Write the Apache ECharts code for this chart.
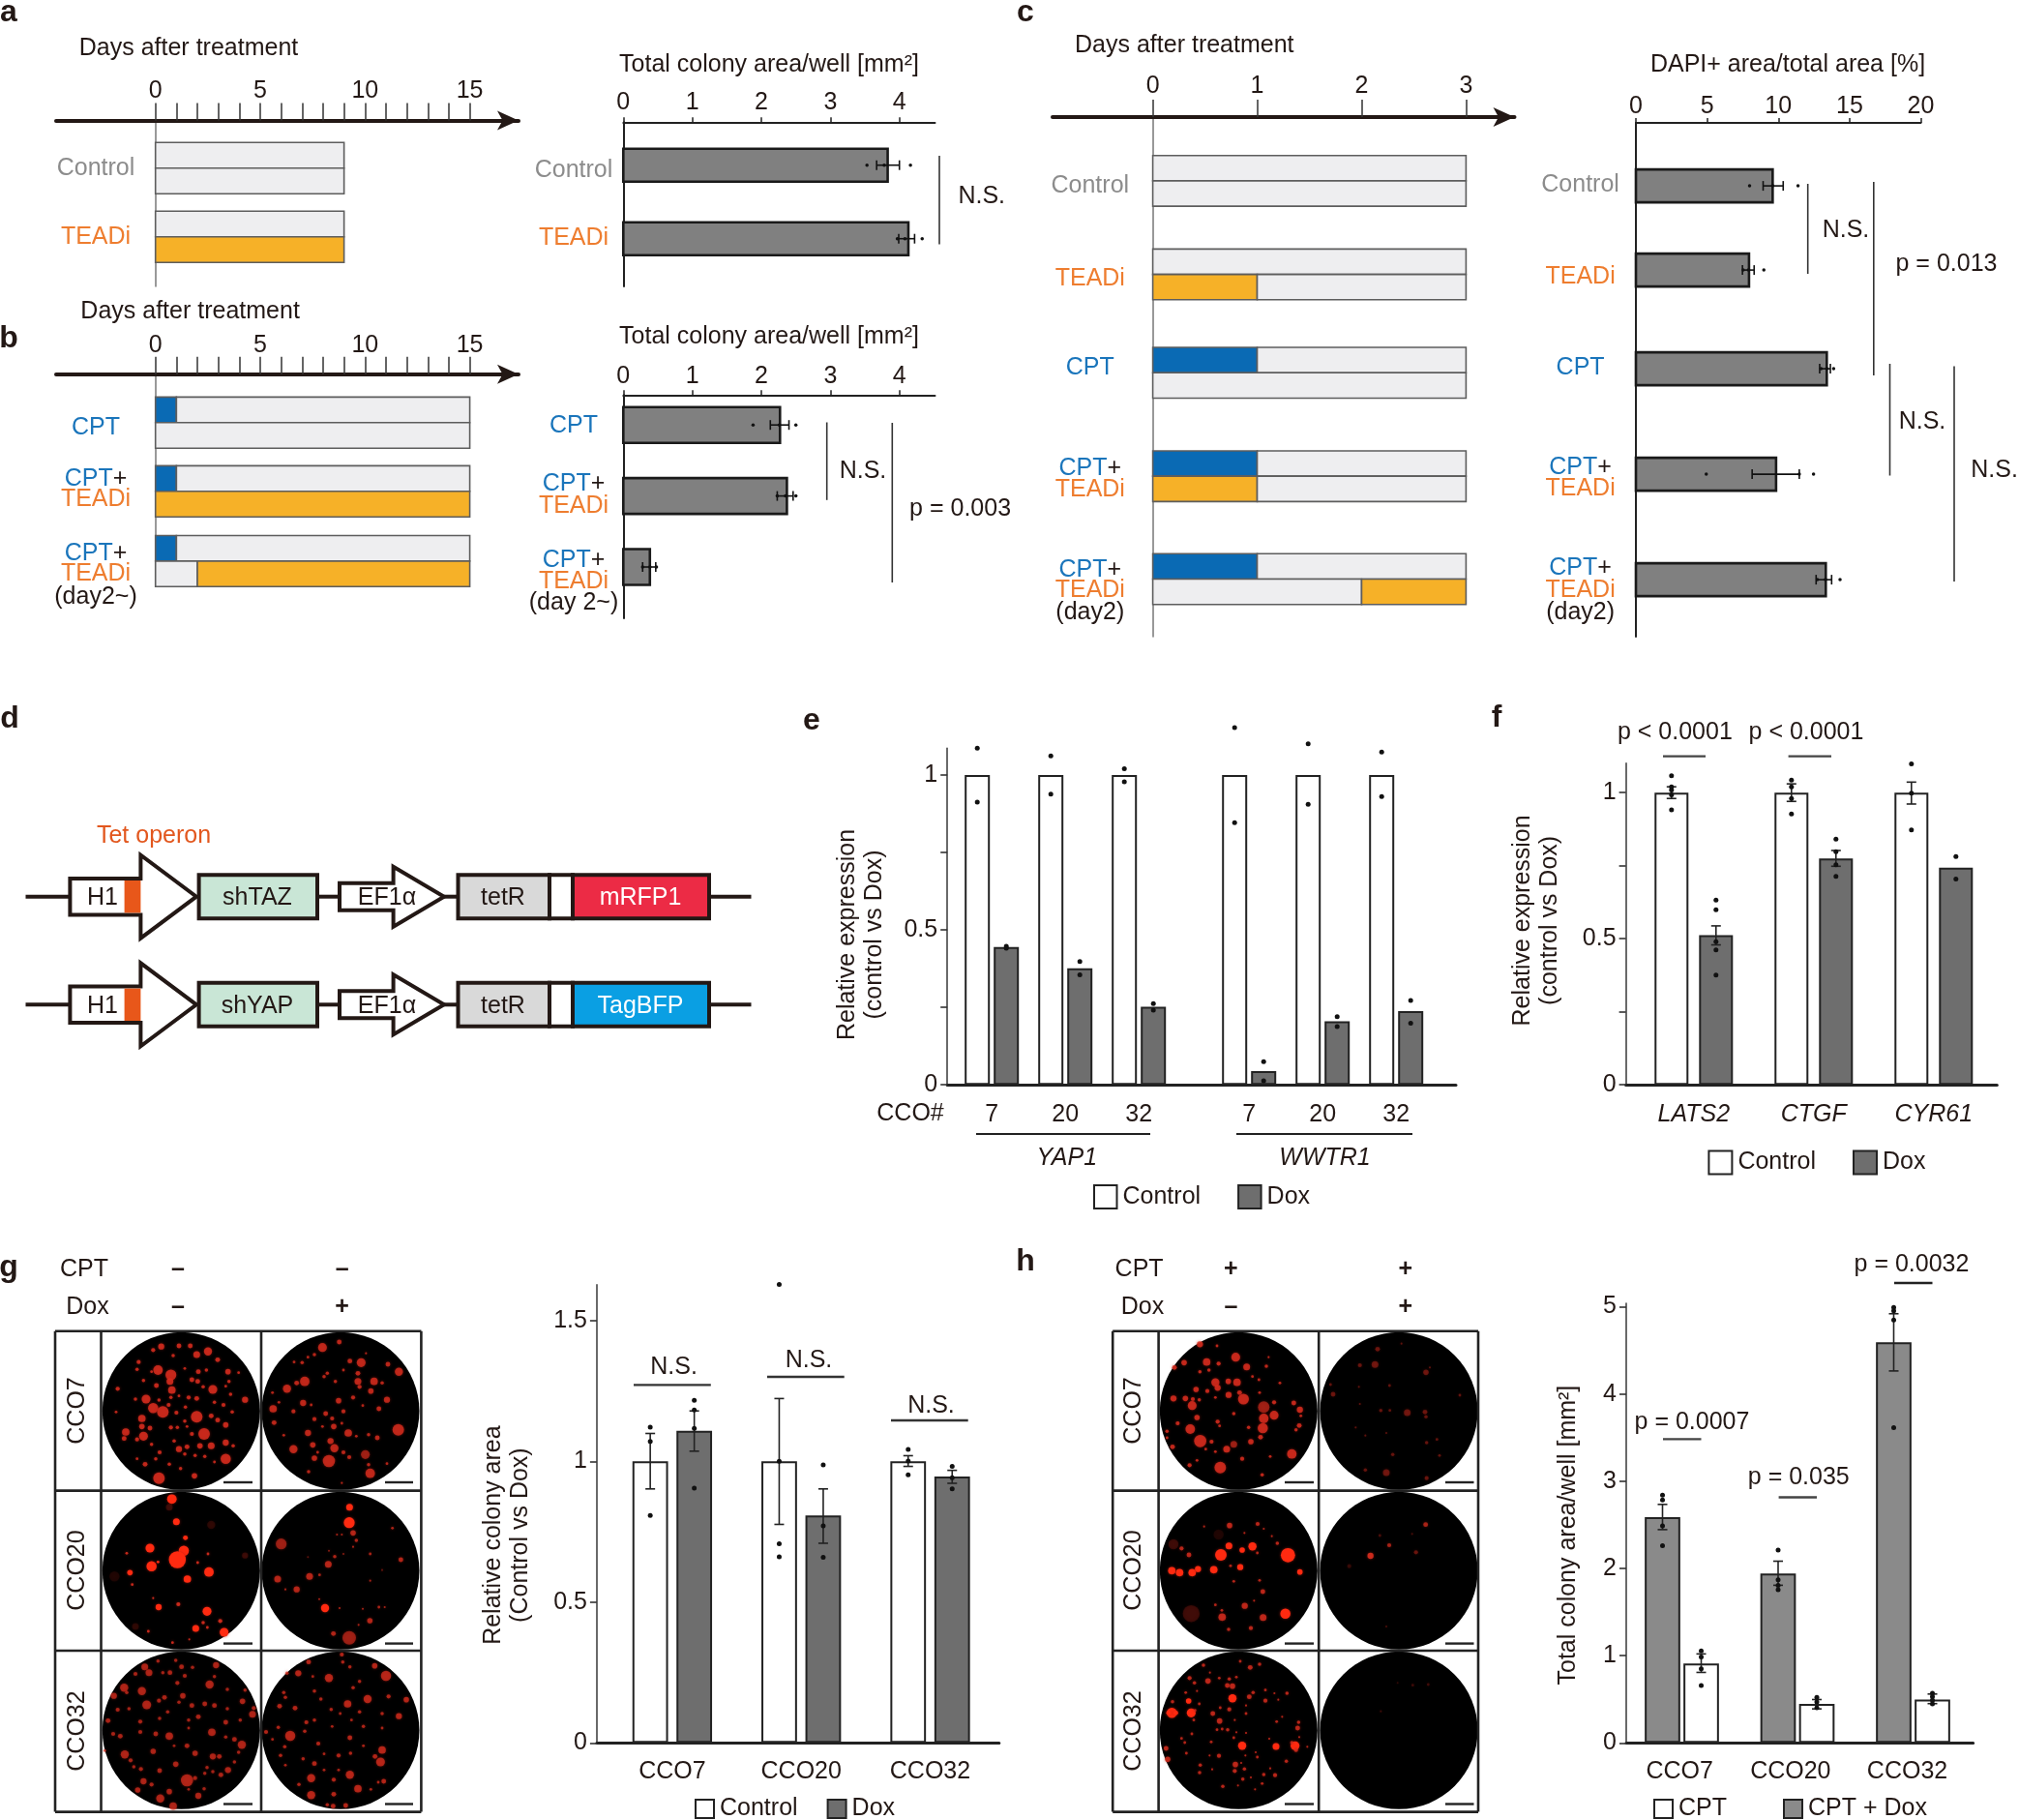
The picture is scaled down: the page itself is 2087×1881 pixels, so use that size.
<!DOCTYPE html>
<html><head><meta charset="utf-8">
<style>html,body{margin:0;padding:0;background:#fff}#c{width:2087px;height:1881px}</style>
<script src="https://cdn.jsdelivr.net/npm/echarts@6/dist/echarts.min.js"></script>
</head><body><div id="c"></div>
<script>
// ---------- DATA ----------
const NONE=0, CPT=1, TEADI=2;
// schedule segments: [lane, startDay, endDay, treatment]
const schedA=[[0,0,9,NONE],[1,0,9,NONE],[2.68,0,9,NONE],[3.68,0,9,TEADI]];
const schedB=[[0,0,1,CPT],[0,1,15,NONE],[1,0,15,NONE],
 [2.69,0,1,CPT],[2.69,1,15,NONE],[3.69,0,15,TEADI],
 [5.42,0,1,CPT],[5.42,1,15,NONE],[6.42,0,2,NONE],[6.42,2,15,TEADI]];
const schedC=[[0,0,3,NONE],[1,0,3,NONE],
 [3.69,0,3,NONE],[4.69,0,1,TEADI],[4.69,1,3,NONE],
 [7.57,0,1,CPT],[7.57,1,3,NONE],[8.57,0,3,NONE],
 [11.65,0,1,CPT],[11.65,1,3,NONE],[12.65,0,1,TEADI],[12.65,1,3,NONE],
 [15.71,0,1,CPT],[15.71,1,3,NONE],[16.71,0,2,NONE],[16.71,2,3,TEADI]];
const dayTicksLong=[0,1,2,3,4,5,6,7,8,9,10,11,12,13,14,15], dayLabelsLong=[0,5,10,15];
const dayTicksShort=[0,1,2,3];

const rowsA=[0,1], valuesA=[3.83,4.13], errA=[[3.67,4.0],[3.99,4.22]], dotsA=[[3.53,3.78,4.16],[3.97,4.08,4.33]];
const rowsB=[0,1,2], valuesB=[2.27,2.37,0.385], errB=[[2.13,2.40],[2.23,2.46],[0.28,0.47]], dotsB=[[1.88,2.26,2.5],[2.23,2.35,2.5],[0.28,0.385,0.48]];
const rowsC=[0,0.87,1.89,2.98,4.07], valuesC=[9.6,7.94,13.4,9.84,13.33];
const errC=[[8.93,10.34],[7.48,8.3],[12.9,13.65],[8.16,11.47],[12.65,13.74]];
const dotsC=[[7.98,9.6,11.38],[7.53,7.9,8.98],[13.0,13.4,13.88],[4.94,11.47,12.47],[12.74,13.3,14.33]];

const groupsE=[0,1,2,3.5,4.5,5.5], labelsE=['7','20','32','7','20','32'];
const controlE=[1,1,1,1,1,1], doxE=[0.445,0.376,0.252,0.044,0.205,0.238];
const dotsControlE=[[1.086,0.912],[1.061,0.938],[1.02,0.978],[1.153,0.846],[1.1,0.905],[1.074,0.93]];
const dotsDoxE=[[0.447,0.441],[0.398,0.355],[0.262,0.241],[0.075,0.013],[0.22,0.188],[0.272,0.199]];

const groupsF=[0,1,2], labelsF=['LATS2','CTGF','CYR61'];
const controlF=[1,1,1], doxF=[0.512,0.775,0.743];
const errControlF=[[0.98,1.02],[0.97,1.03],[0.961,1.036]], errDoxF=[[0.479,0.544],[0.748,0.802],null];
const dotsControlF=[[1.058,1.02,1.009,0.992,0.941],[1.043,1.02,0.98,0.927],[1.098,0.998,0.872]];
const dotsDoxF=[[0.632,0.599,0.49,0.462,0.376],[0.841,0.798,0.753,0.713],[0.781,0.704]];

const groupsG=[0,1,2], labelsG=['CCO7','CCO20','CCO32'];
const controlG=[1,1,1], doxG=[1.108,0.808,0.946];
const errControlG=[[0.902,1.099],[0.776,1.223],[0.982,1.02]], errDoxG=[[1.036,1.179],[0.709,0.902],[0.922,0.968]];
const dotsControlG=[[1.121,1.071,0.808],[1.628,1.0,0.707,0.661],[1.042,1.001,0.952]];
const dotsDoxG=[[1.217,1.182,1.117,0.905],[0.987,0.771,0.659],[0.982,0.942,0.902]];

const groupsH=[0,1,2], labelsH=['CCO7','CCO20','CCO32'], labelPosH=[-0.02,0.94,1.95];
const cptDoxH=[2.589,1.943,4.592], cptH=[0.91,0.446,0.497];
const errCptDoxH=[[2.445,2.734],[1.807,2.083],[4.264,4.92]], errCptH=[[0.808,1.02],[0.39,0.497],[0.45,0.56]];
const dotsCptDoxH=[[2.84,2.785,2.487,2.262],[2.211,1.871,1.807,1.756],[4.991,4.953,4.847,3.614]];
const dotsCptH=[[1.054,0.986,0.85,0.659],[0.523,0.468,0.404],[0.57,0.531,0.489,0.446]];

// colonies: [x, y, diameter, brightness]
const wellG7c=[[185,47,18],[160,58,12],[240,45,14],[275,45,14],[330,62,24],[295,72,20],[222,75,10],[115,95,12],[360,88,14],[110,118,10],[175,120,28],[215,135,32],[212,155,20],[130,152,10],[155,125,8],[258,115,8],[300,125,14],[325,120,10],[392,125,16],[425,128,8],[170,168,14],[218,182,22],[280,150,14],[298,155,14],[315,172,10],[345,180,26],[395,155,10],[385,170,8],[50,178,12],[138,210,26],[105,210,10],[178,213,10],[215,205,10],[270,205,12],[295,208,14],[240,200,8],[400,195,10],[445,212,18],[350,220,10],[378,228,12],[160,238,30],[190,250,34],[208,228,12],[260,235,10],[232,252,12],[405,250,10],[45,250,8],[125,270,22],[258,278,10],[295,265,34],[340,262,14],[360,275,14],[385,290,16],[125,295,16],[150,300,14],[75,312,22],[70,332,14],[130,325,26],[110,335,12],[215,298,12],[235,298,10],[280,318,12],[318,318,34],[265,295,8],[385,345,18],[408,355,10],[155,350,10],[225,340,10],[240,365,18],[265,358,14],[305,355,16],[340,355,20],[180,375,12],[110,395,8],[258,380,10],[290,385,10],[168,395,10],[320,388,10],[385,395,30],[135,412,14],[210,412,10],[245,425,10],[350,405,8],[288,448,16],[178,455,34]];
const wellG7d=[[737,33,14],[685,50,26],[660,72,10],[640,80,8],[805,97,26],[770,92,14],[888,102,14],[622,97,10],[597,95,8],[922,125,24],[700,130,10],[750,120,8],[795,130,14],[820,68,6],[630,155,28],[605,160,14],[575,178,24],[690,140,10],[725,155,10],[795,155,20],[800,172,12],[845,155,22],[835,185,16],[870,160,10],[530,190,8],[550,220,8],[625,222,18],[650,228,8],[735,215,16],[780,205,12],[885,212,18],[532,240,22],[595,248,12],[695,255,14],[750,248,12],[715,270,12],[860,240,14],[810,230,8],[660,272,12],[535,283,14],[720,295,16],[685,295,8],[745,285,8],[920,305,34],[765,315,22],[640,315,18],[828,320,10],[855,330,14],[790,325,8],[565,322,8],[710,340,18],[655,352,16],[722,362,24],[595,365,24],[670,375,8],[750,375,12],[818,382,26,0.6],[768,390,12],[660,393,16],[705,402,36],[833,440,28],[828,413,10],[642,435,10],[885,410,8],[745,470,6]];
const wellG20c=[[218,520,28,1.2],[232,590,20,1.2],[260,640,14,1.2],[150,672,26,1.2],[255,680,30,1.2],[235,708,50,1.2],[155,728,30,1.2],[175,715,8,1.2],[78,688,8],[333,746,28,1.2],[88,748,16,1.2],[266,768,22,1.2],[298,717,8],[95,785,8],[330,690,8],[177,855,18,1.2],[160,827,6],[238,846,12],[327,868,26,1.2],[292,921,20,1.2],[380,933,26,1.2],[315,903,10],[328,918,8],[368,898,12],[145,930,8],[220,965,8],[272,955,6],[210,545,20,0.2],[340,600,24,0.15],[40,760,30,0.1],[445,695,18,0.2],[105,915,20,0.15]];
const wellG20d=[[769,545,20,1.2],[768,593,32,1.2],[780,625,16],[790,648,10],[745,630,6],[730,630,6],[902,610,8],[557,659,32,0.6],[723,698,10],[703,722,20],[928,708,14],[833,690,8],[780,668,6],[645,760,20],[676,755,8],[546,768,20],[605,800,18],[570,800,6],[833,773,6],[693,858,24,1.2],[860,855,8],[878,855,6],[738,858,6],[832,897,16],[797,910,6],[719,937,14],[768,950,40,0.6],[675,830,5],[810,860,5],[750,690,5,0.6],[705,680,5,0.6],[640,700,5,0.4],[870,740,6,0.4]];
const wellG32c=[[134,50,20],[230,30,10],[175,32,10],[355,45,18],[282,52,10],[248,50,14],[105,72,12],[147,68,20],[190,68,10],[212,68,14],[258,78,12],[335,105,24],[350,80,10],[70,115,24],[125,125,24],[235,100,12],[390,120,10],[445,122,10],[38,140,18],[78,130,10],[140,168,26],[195,145,14],[178,155,12],[252,140,16],[240,160,10],[280,170,14],[320,165,14],[350,170,14],[437,157,16],[390,180,10],[50,183,12],[85,180,10],[205,190,10],[472,178,12],[468,197,20],[20,217,14],[120,220,12],[180,210,10],[270,215,10],[300,205,14],[385,222,14],[430,215,10],[36,258,12],[58,265,14],[120,252,12],[168,258,14],[210,265,22],[342,253,22],[385,268,10],[270,240,8],[412,275,14],[435,292,24],[225,295,8],[265,295,14],[160,312,16],[72,322,24],[90,340,12],[290,318,16],[345,328,18],[365,328,14],[425,315,10],[10,310,8],[100,360,10],[122,367,12],[180,372,14],[230,352,16],[327,362,10],[345,375,10],[392,370,18],[412,345,10],[370,385,14],[320,380,10],[265,402,36],[130,405,18],[155,415,12],[290,395,12],[112,432,16],[210,437,16],[182,458,24],[300,450,18],[222,482,22],[318,428,10],[270,430,8]];
const wellG32d=[[745,12,12],[748,35,10],[642,35,14],[847,47,16],[882,78,30],[610,70,18],[705,85,24],[575,70,10],[655,80,8],[770,50,10],[800,95,10],[780,115,10],[660,125,10],[945,152,16],[825,150,24],[890,142,12],[763,165,22],[680,150,10],[565,130,10],[570,145,10],[600,178,14],[552,172,14],[712,182,10],[740,195,8],[800,190,10],[870,195,10],[922,203,18],[635,222,12],[660,215,10],[510,252,12],[548,238,10],[585,264,30],[630,250,10],[770,270,14],[715,235,8],[775,215,8],[812,235,10],[870,240,8],[672,288,12],[530,275,8],[568,298,10],[870,308,22],[848,328,14],[865,345,26],[660,350,14],[555,325,10],[625,335,10],[735,325,12],[772,318,10],[812,295,8],[690,320,8],[570,355,8],[770,385,24],[650,395,24],[720,400,12],[875,405,14],[795,428,22],[858,408,8],[612,415,10],[650,448,24],[720,445,14],[700,478,10],[718,482,14],[757,480,14],[835,430,8],[735,370,8],[690,370,8]];
const wellH7c=[[127,40,18],[180,45,8],[238,80,26],[78,97,16],[148,95,22],[185,100,12],[48,112,14],[272,110,20],[333,108,10],[127,125,10],[155,120,10],[340,80,6],[290,140,8],[175,158,24],[182,175,18],[215,155,16],[242,158,22],[115,180,16],[150,185,12],[310,150,8],[375,160,8],[45,208,18],[82,208,16],[105,210,12],[125,212,10],[216,197,18],[250,190,14],[262,210,32],[175,205,8],[312,190,8],[103,230,26],[325,235,34,0.6],[357,220,12],[418,222,14],[437,243,18],[118,267,16],[232,255,10],[357,260,26],[325,270,28],[440,262,8],[58,285,12],[182,280,12],[188,293,8],[97,303,28],[278,298,10],[322,300,30],[435,292,14],[425,305,10],[25,310,10],[315,328,14],[25,330,8],[128,340,36],[163,342,12],[285,342,16],[232,350,20,0.6],[42,358,14],[210,365,20],[145,365,8],[175,373,8],[412,380,28],[258,395,12],[345,388,8],[95,415,12],[118,400,8],[190,422,34],[320,445,10]];
const wellH7d=[[678,55,14],[752,38,6],[623,105,12],[670,103,20],[828,127,16],[840,112,6],[532,165,8],[540,195,14],[715,168,8],[620,172,6],[933,198,8],[688,245,10],[716,245,8],[770,252,20],[825,250,14],[828,265,10],[623,225,6],[610,298,6],[640,323,6],[862,335,8],[830,345,10],[725,382,10],[870,385,8],[640,430,10],[705,438,20],[830,455,12],[705,315,5]];
const wellH20c=[[219,602,16],[306,597,12],[325,612,6],[217,665,20,1.2],[290,667,24,1.2],[258,678,16,1.2],[70,673,12],[93,693,14],[192,693,34,1.2],[400,694,42,1.2],[367,657,10],[305,687,8],[40,742,22,1.2],[64,748,22,1.2],[103,748,22,1.2],[121,737,18,1.2],[170,739,22,1.2],[252,731,18,1.2],[222,727,8],[437,746,16,1.2],[232,775,8],[312,772,8],[322,807,14],[266,851,18],[195,865,8],[392,875,30,1.2],[196,886,22],[323,887,20],[175,848,8],[285,920,12],[216,924,10],[100,875,50,0.2],[45,660,30,0.2],[185,630,30,0.1],[140,605,6],[265,625,6],[350,635,6],[295,835,6]];
const wellH20d=[[827,599,14,0.7],[714,663,12,0.7],[656,696,18,0.9],[797,685,12,0.4],[685,633,8,0.3],[785,628,6,0.3],[590,728,12,0.2],[705,915,6,0.3]];
const wellH32c=[[138,45,10],[252,33,8],[283,52,14],[312,42,10],[158,68,6],[95,85,12],[110,100,10],[152,94,16],[187,85,8],[218,88,10],[212,108,14],[228,110,16],[240,82,8],[83,130,8],[118,125,6],[228,148,24,1.2],[280,143,14],[292,130,10],[330,122,8],[397,132,10],[358,132,6],[330,155,12],[370,152,6],[42,158,10],[92,156,16,1.2],[125,165,8],[218,182,12],[190,177,8],[270,170,6],[40,193,30,1.2],[30,193,14,1.2],[52,193,14,1.2],[100,193,26,1.2],[112,185,8],[167,195,14],[270,195,8],[188,218,16],[235,215,6],[365,220,8],[382,205,6],[108,215,8],[433,222,10],[430,240,14],[180,245,8],[196,243,8],[213,245,10],[102,258,8],[240,253,6],[270,255,6],[70,272,8],[80,285,8],[162,283,8],[232,270,8],[435,268,6],[342,273,6],[258,295,24,1.2],[363,297,20,1.2],[422,295,26,1.2],[412,285,10],[425,308,12],[22,303,14],[460,298,6],[300,315,6],[85,318,8],[186,326,12],[157,325,6],[268,325,6],[305,330,8],[27,337,16],[395,343,10],[237,353,16],[255,348,6],[265,367,10],[128,355,10],[235,373,12],[126,378,10],[165,368,6],[325,384,10],[360,386,12],[345,365,6],[260,398,10],[285,393,6],[198,421,10],[245,418,6],[320,412,8],[298,430,6]];
const wellH32d=[[787,107,8,0.25],[835,105,8,0.25],[688,188,6,0.25],[740,100,5,0.2]];

const titleDays='Days after treatment', titleArea='Total colony area/well [mm²]', titleDapi='DAPI+ area/total area [%]';

// ---------- STYLE & HELPERS ----------
const FF='"Liberation Sans",Arial,sans-serif', INK='#231815', GREY='#8c8c8c', ORG='#ee7d2f', BLU='#1a75bb', FS=25;
const segFill={[NONE]:'#eeeef0',[CPT]:'#0a6ab4',[TEADI]:'#f6b128'};
const opt={animation:false,backgroundColor:'#fff',textStyle:{fontFamily:FF},grid:[],xAxis:[],yAxis:[],series:[],legend:[],graphic:{elements:[]}};
const G=opt.graphic.elements;
function T(x,y,text,o){o=o||{};const dy=o.rot?0:1.5;G.push({type:'text',x,y:y+dy,rotation:o.rot||0,z:50,style:{text,fill:o.color||INK,
  font:`${o.italic?'italic ':''}${o.bold?'bold ':''}${o.size||FS}px ${FF}`,align:o.align||'center',textAlign:o.align||'center',verticalAlign:'middle',textVerticalAlign:'middle',lineHeight:o.lh,rich:o.rich}});}
function L(x1,y1,x2,y2,w,c){G.push({type:'line',z:49,shape:{x1,y1,x2,y2},style:{stroke:c||'#333',lineWidth:w||1.6}});}
function addGrid(l,t,r,b){opt.grid.push({left:l,top:t,width:r-l,height:b-t,containLabel:false});return opt.grid.length-1;}
const rich={b:{fill:BLU,fontSize:FS,fontFamily:FF},k:{fill:INK,fontSize:FS,fontFamily:FF},o:{fill:ORG,fontSize:FS,fontFamily:FF}};
function cptPlus(x,y){T(x,y,'{b|CPT}{k|+}',{rich});}

function schedule(p){
  const g=addGrid(p.left,p.axisY,p.right,p.bottom);
  const u=(p.dayEnd-p.day0)/p.xmax;
  opt.xAxis.push({gridIndex:g,type:'value',position:'top',min:(p.left-p.day0)/u,max:(p.right-p.day0)/u,splitLine:{show:false},
    axisLine:{show:true,onZero:false,symbol:['none','arrow'],symbolSize:[15,22],lineStyle:{color:INK,width:4}},
    axisTick:{show:true,length:18,customValues:p.ticks,lineStyle:{color:'#333',width:1.5}},
    axisLabel:{show:true,customValues:p.labels,margin:p.margin,color:INK,fontSize:FS,fontFamily:FF,formatter:v=>String(v)}});
  opt.yAxis.push({gridIndex:g,type:'value',inverse:true,min:(p.axisY-p.top0)/p.lane,max:(p.bottom-p.top0)/p.lane,splitLine:{show:false},
    axisLine:{show:true,onZero:true,lineStyle:{color:'#777',width:1.5}},axisTick:{show:false},axisLabel:{show:false}});
  opt.series.push({type:'custom',xAxisIndex:g,yAxisIndex:g,clip:false,silent:true,z:3,data:p.data,
    renderItem:(c,api)=>{const a=api.coord([api.value(1),api.value(0)]),b=api.coord([api.value(2),api.value(0)+1]);
      return {type:'rect',shape:{x:a[0],y:a[1],width:b[0]-a[0],height:b[1]-a[1]},style:{fill:segFill[api.value(3)],stroke:'#5d5d5d',lineWidth:1.6}};}});
}
function hbars(p){
  const g=addGrid(p.x0,p.axisY,p.right,p.bottom);
  const u=(p.xEnd-p.x0)/p.xmaxTick;
  opt.xAxis.push({gridIndex:g,type:'value',position:'top',min:0,max:(p.right-p.x0)/u,splitLine:{show:false},
    axisLine:{show:true,onZero:false,lineStyle:{color:'#222',width:2}},
    axisTick:{show:true,length:5,customValues:p.ticks,lineStyle:{color:'#222',width:1.5}},
    axisLabel:{show:true,customValues:p.ticks,margin:p.margin,color:INK,fontSize:FS,fontFamily:FF,formatter:v=>String(v)}});
  opt.yAxis.push({gridIndex:g,type:'value',inverse:true,min:(p.axisY-p.c0)/p.pitch,max:(p.bottom-p.c0)/p.pitch,splitLine:{show:false},
    axisLine:{show:true,onZero:true,lineStyle:{color:'#222',width:2}},axisTick:{show:false},axisLabel:{show:false}});
  const ax={xAxisIndex:g,yAxisIndex:g,clip:false,silent:true};
  opt.series.push({...ax,type:'custom',z:3,data:p.rows.map((r,i)=>[r,p.values[i]]),
    renderItem:(c,api)=>{const a=api.coord([0,api.value(0)]),b=api.coord([api.value(1),api.value(0)]),h=p.barH;
      return {type:'rect',shape:{x:a[0],y:a[1]-h/2,width:b[0]-a[0],height:h},style:{fill:'#808080',stroke:'#1a1a1a',lineWidth:2.6}};}});
  opt.series.push({...ax,type:'custom',z:4,data:p.rows.map((r,i)=>[r,p.err[i][0],p.err[i][1]]),
    renderItem:(c,api)=>{const a=api.coord([api.value(1),api.value(0)]),b=api.coord([api.value(2),api.value(0)]),s={stroke:'#111',lineWidth:1.6};
      return {type:'group',children:[{type:'line',shape:{x1:a[0],y1:a[1],x2:b[0],y2:b[1]},style:s},
        {type:'line',shape:{x1:a[0],y1:a[1]-5,x2:a[0],y2:a[1]+5},style:s},{type:'line',shape:{x1:b[0],y1:b[1]-5,x2:b[0],y2:b[1]+5},style:s}]};}});
  opt.series.push({...ax,type:'scatter',z:5,symbolSize:3.5,itemStyle:{color:'#111',opacity:1},data:p.rows.flatMap((r,i)=>p.dots[i].map(d=>[d,r]))});
}
function vbars(p){
  const g=addGrid(p.yx,p.top,p.right,p.base);
  const u=p.pitch, lp=p.labelPos||p.groups;
  opt.xAxis.push({gridIndex:g,type:'value',min:(p.yx-p.first)/u,max:(p.right-p.first)/u,splitLine:{show:false},
    axisLine:{show:true,onZero:false,lineStyle:{color:'#222',width:3}},axisTick:{show:false},
    axisLabel:{show:true,customValues:lp,margin:p.margin,color:INK,fontSize:FS,fontStyle:p.italic?'italic':'normal',fontFamily:FF,
      formatter:v=>p.labels[lp.indexOf(v)]}});
  opt.yAxis.push({gridIndex:g,type:'value',min:0,max:(p.base-p.top)/p.scale,splitLine:{show:false},
    axisLine:{show:true,onZero:false,lineStyle:{color:'#444',width:1.6}},
    axisTick:{show:true,length:7,customValues:p.yTicks,lineStyle:{color:'#333',width:1.6}},
    axisLabel:{show:true,customValues:p.yLabels,margin:p.lmargin||10,padding:[6,0,0,0],color:INK,fontSize:FS,fontFamily:FF,formatter:v=>String(v)}});
  const ax={xAxisIndex:g,yAxisIndex:g};
  const off=p.dist/(2*u);
  p.sets.forEach((s,si)=>{
    const sx=si===0?-off:off;
    opt.series.push({...ax,type:'bar',name:s.name,barWidth:p.barW,barGap:((p.dist-p.barW)/p.barW*100)+'%',z:3,silent:true,
      itemStyle:{color:s.color,borderColor:'#222',borderWidth:2},data:p.groups.map((x,i)=>[x,s.values[i]])});
    if(s.err) opt.series.push({...ax,type:'custom',clip:false,silent:true,z:4,data:p.groups.map((x,i)=>s.err[i]?[x+sx,s.err[i][0],s.err[i][1]]:null).filter(Boolean),
      renderItem:(c,api)=>{const a=api.coord([api.value(0),api.value(1)]),b=api.coord([api.value(0),api.value(2)]),st={stroke:'#222',lineWidth:1.6};
        return {type:'group',children:[{type:'line',shape:{x1:a[0],y1:a[1],x2:b[0],y2:b[1]},style:st},
          {type:'line',shape:{x1:a[0]-5,y1:a[1],x2:a[0]+5,y2:a[1]},style:st},{type:'line',shape:{x1:b[0]-5,y1:b[1],x2:b[0]+5,y2:b[1]},style:st}]};}});
    opt.series.push({...ax,type:'scatter',clip:false,silent:true,z:5,symbolSize:5,itemStyle:{color:'#111',opacity:1},data:p.groups.flatMap((x,i)=>s.dots[i].map(d=>[x+sx,d]))});
  });
}
function addLegend(l,t,w,h,gap,names){opt.legend.push({left:l,top:t,orient:'horizontal',icon:'rect',selectedMode:false,padding:0,itemWidth:w,itemHeight:h,itemGap:gap,data:names,
  textStyle:{fontSize:FS,color:INK,fontFamily:FF,padding:[0,0,0,1]}});}

function wells(p){
  const g=addGrid(p.left,p.top,p.left+p.w,p.top+p.h);
  opt.xAxis.push({gridIndex:g,type:'value',show:false,min:0,max:p.w*3});
  opt.yAxis.push({gridIndex:g,type:'value',show:false,inverse:true,min:0,max:p.h*3});
  const ax={xAxisIndex:g,yAxisIndex:g,clip:false,silent:true,type:'scatter'};
  const disks=[];p.colX.forEach(cx=>p.rowY.forEach(cy=>disks.push([cx,cy])));
  opt.series.push({...ax,z:2,symbolSize:163,itemStyle:{color:'#000',opacity:1},data:disks});
  p.sets.forEach(s=>{
    opt.series.push({...ax,z:3,symbolSize:v=>Math.max(2,v[2]/2.85),
      itemStyle:{opacity:1,color:c=>{const b=c.value[3];return b>=1.2?'#ff2a10':`rgba(215,45,30,${b})`;},shadowBlur:3,shadowColor:'rgba(190,30,20,.7)'},
      data:s.data.map(d=>[d[0],d[1]+(s.dy||0),d[2],d[3]===undefined?s.b:d[3]])});
  });
}
function frame(xs,ys){ys.forEach(y=>L(xs[0],y,xs[3],y,2.6,'#222'));xs.forEach(x=>L(x,ys[0],x,ys[3],2.6,'#222'));}

// ---------- PANEL a ----------
T(9,12,'a',{bold:true,size:32});
T(195,49,titleDays);
schedule({left:58,right:536,axisY:124.6,bottom:296,day0:160.7,dayEnd:485.6,xmax:15,top0:147.3,lane:26.5,ticks:dayTicksLong,labels:dayLabelsLong,margin:18,data:schedA});
T(99,173,'Control',{color:GREY});T(99,244,'TEADi',{color:ORG});
T(795,66,titleArea);
hbars({x0:644.3,xEnd:929.7,xmaxTick:4,right:966.5,axisY:126.3,bottom:296,c0:170.7,pitch:76,barH:34,ticks:[0,1,2,3,4],margin:8,rows:rowsA,values:valuesA,err:errA,dots:dotsA});
T(593,175,'Control',{color:GREY});T(593,245,'TEADi',{color:ORG});
L(971,161,971,252.5);T(1014.7,202,'N.S.');

// ---------- PANEL b ----------
T(9,349,'b',{bold:true,size:32});
T(196.6,321,titleDays);
schedule({left:58,right:536,axisY:386.8,bottom:606,day0:160.7,dayEnd:485.6,xmax:15,top0:410.4,lane:26.4,ticks:dayTicksLong,labels:dayLabelsLong,margin:17,data:schedB});
T(99,441,'CPT',{color:BLU});cptPlus(99,493.3);T(99,515,'TEADi',{color:ORG});cptPlus(99,570.3);T(99,592,'TEADi',{color:ORG});T(99,615.7,'(day2~)');
T(795,347,titleArea);
hbars({x0:644.3,xEnd:929.7,xmaxTick:4,right:966.5,axisY:408.3,bottom:639,c0:439.2,pitch:73.4,barH:37,ticks:[0,1,2,3,4],margin:7,rows:rowsB,values:valuesB,err:errB,dots:dotsB});
T(593,439,'CPT',{color:BLU});cptPlus(593,498.7);T(593,521.9,'TEADi',{color:ORG});cptPlus(593,577.4);T(593,599.7,'TEADi',{color:ORG});T(593,622,'(day 2~)');
L(854.7,436.5,854.7,516.8);T(892,486,'N.S.');L(922.3,437,922.3,602);T(992.6,525,'p = 0.003');

// ---------- PANEL c ----------
T(1060,12,'c',{bold:true,size:32});
T(1224.3,45.3,titleDays);
schedule({left:1088,right:1565.5,axisY:120.9,bottom:658,day0:1191.6,dayEnd:1515.4,xmax:3,top0:160.7,lane:26.2,ticks:dayTicksShort,labels:dayTicksShort,margin:19,data:schedC});
T(1126.8,190.6,'Control',{color:GREY});T(1126.8,286.3,'TEADi',{color:ORG});T(1126.8,379,'CPT',{color:BLU});
cptPlus(1126.8,482.9);T(1126.8,505,'TEADi',{color:ORG});cptPlus(1126.8,587.6);T(1126.8,609,'TEADi',{color:ORG});T(1126.8,631.6,'(day2)');
T(1848,65.4,titleDapi);
hbars({x0:1691,xEnd:1985.5,xmaxTick:20,right:1985.5,axisY:127,bottom:658,c0:192.1,pitch:100,barH:34,ticks:[0,5,10,15,20],margin:4,rows:rowsC,values:valuesC,err:errC,dots:dotsC});
T(1633.6,189.7,'Control',{color:GREY});T(1633.6,285,'TEADi',{color:ORG});T(1633.6,379,'CPT',{color:BLU});
cptPlus(1633.6,482);T(1633.6,504,'TEADi',{color:ORG});cptPlus(1633.6,586);T(1633.6,609,'TEADi',{color:ORG});T(1633.6,631.6,'(day2)');
L(1868.7,190,1868.7,283);T(1908,236.3,'N.S.');L(1936.8,188,1936.8,388);T(2012,271.4,'p = 0.013');
L(1953.5,376,1953.5,491.5);T(1987,434.6,'N.S.');L(2020,378.6,2020,601);T(2061.6,485,'N.S.');

// ---------- PANEL d ----------
T(10,742,'d',{bold:true,size:32});
T(159,863,'Tet operon',{color:'#e2571e'});
function construct(cy,sh,rep,repColor){
  const S={stroke:INK,lineWidth:4};
  L(26.5,cy,72.4,cy,4,INK);L(328,cy,351,cy,4,INK);L(459,cy,473.5,cy,4,INK);L(733,cy,776.5,cy,4,INK);
  G.push({type:'polygon',z:40,shape:{points:[[72.4,cy-18.7],[145.4,cy-18.7],[145.4,cy-43],[203,cy],[145.4,cy+43],[145.4,cy+18.7],[72.4,cy+18.7]]},style:{fill:'#fff',...S}});
  G.push({type:'rect',z:41,shape:{x:128.6,y:cy-16.7,width:16.8,height:33.4},style:{fill:'#e8571a'}});
  G.push({type:'rect',z:40,shape:{x:205.6,y:cy-22.5,width:122.4,height:45},style:{fill:'#c9e6d6',...S}});
  G.push({type:'polygon',z:40,shape:{points:[[351,cy-14],[406.6,cy-14],[406.6,cy-31],[459,cy],[406.6,cy+31],[406.6,cy+14],[351,cy+14]]},style:{fill:'#fff',...S}});
  G.push({type:'rect',z:40,shape:{x:473.5,y:cy-22.5,width:94.5,height:45},style:{fill:'#d9d9d9',...S}});
  G.push({type:'rect',z:40,shape:{x:568,y:cy-22.5,width:24,height:45},style:{fill:'#fff',...S}});
  G.push({type:'rect',z:40,shape:{x:592,y:cy-22.5,width:141,height:45},style:{fill:repColor,...S}});
  T(106,cy,'H1');T(266,cy,sh);T(400,cy,'EF1α');T(520,cy,'tetR');T(662,cy,rep,{color:'#fff'});
}
construct(926.7,'shTAZ','mRFP1','#ec2b45');
construct(1038.3,'shYAP','TagBFP','#0a9fe3');

// ---------- PANEL e ----------
T(839,744,'e',{bold:true,size:32});
vbars({yx:979.2,right:1505,top:773.4,base:1121.2,scale:320.3,first:1025.2,pitch:76,barW:26,dist:30,margin:18,groups:groupsE,labels:labelsE,
  yTicks:[0,0.25,0.5,0.75,1],yLabels:[0,0.5,1],
  sets:[{name:'Control',color:'#fff',values:controlE,dots:dotsControlE},{name:'Dox',color:'#6e6e6e',values:doxE,dots:dotsDoxE}]});
T(941,1150,'CCO#');
L(1009,1172,1189,1172,2.2,'#222');L(1278,1172,1460,1172,2.2,'#222');
T(1102.8,1196,'YAP1',{italic:true});T(1369.5,1196,'WWTR1',{italic:true});
T(890,966,'Relative expression\n(control vs Dox)',{rot:Math.PI/2,lh:28});
addLegend(1130,1224,23.5,24,38,['Control','Dox']);

// ---------- PANEL f ----------
T(1547,741,'f',{bold:true,size:32});
vbars({yx:1680.6,right:2064.3,top:788.9,base:1121.2,scale:302,first:1750.8,pitch:124,barW:35,dist:46,margin:18,italic:true,groups:groupsF,labels:labelsF,
  yTicks:[0,0.25,0.5,0.75,1],yLabels:[0,0.5,1],
  sets:[{name:'Control',color:'#fff',values:controlF,err:errControlF,dots:dotsControlF},{name:'Dox',color:'#6e6e6e',values:doxF,err:errDoxF,dots:dotsDoxF}]});
T(1731.4,755.5,'p < 0.0001');T(1867,755.5,'p < 0.0001');
L(1719,781.6,1763,781.6,2.4,'#444');L(1848.6,781.6,1893,781.6,2.4,'#444');
T(1588,951.4,'Relative expression\n(control vs Dox)',{rot:Math.PI/2,lh:28});
addLegend(1765.4,1188.5,24,24,38,['Control','Dox']);

// ---------- PANEL g ----------
T(9,1309,'g',{bold:true,size:32});
T(87,1311,'CPT');T(90.4,1350,'Dox');
T(184,1311,'–',{bold:true});T(353.6,1311,'–',{bold:true});T(184,1350,'–',{bold:true});T(353.6,1350,'+',{bold:true});
const wellCols=[247,741], wellColsH=[247,744], wellRows=[247,742,1237];
wells({left:105,top:1376,w:330,h:497,colX:wellCols,rowY:wellRows,sets:[
  {data:wellG7c,b:0.85},{data:wellG7d,b:0.8},{data:wellG20c,b:0.9},{data:wellG20d,b:0.75},{data:wellG32c,b:0.7,dy:990},{data:wellG32d,b:0.75,dy:990}]});
frame([57,104.5,270,435.4],[1375.8,1540.6,1706,1872.6]);
T(80.4,1458,'CCO7',{rot:Math.PI/2});T(80.4,1623,'CCO20',{rot:Math.PI/2});T(80.4,1789,'CCO32',{rot:Math.PI/2});
[1532,1698.6,1864.5].forEach(y=>{L(231,y,261,y,2.4,'#222');L(398,y,427,y,2.4,'#222');});
vbars({yx:616.9,right:1032.8,top:1327.9,base:1801.3,scale:291,first:694.9,pitch:133.3,barW:36.8,dist:45.5,margin:17,groups:groupsG,labels:labelsG,
  yTicks:[0,0.5,1,1.5],yLabels:[0,0.5,1,1.5],
  sets:[{name:'Control',color:'#fff',values:controlG,err:errControlG,dots:dotsControlG},{name:'Dox',color:'#6e6e6e',values:doxG,err:errDoxG,dots:dotsDoxG}]});
L(655,1431.4,734.8,1431.4,2.4,'#333');T(696.6,1412,'N.S.');
L(793,1423,872.7,1423,2.4,'#333');T(836,1404.6,'N.S.');
L(921,1468,1000.7,1468,2.4,'#333');T(962.5,1451.3,'N.S.');
T(524,1586.6,'Relative colony area\n(Control vs Dox)',{rot:Math.PI/2,lh:28});
addLegend(718,1857,19,19,30,['Control','Dox']);

// ---------- PANEL h ----------
T(1060,1303,'h',{bold:true,size:32});
T(1177.6,1311,'CPT');T(1181,1350,'Dox');
T(1272.4,1311,'+',{bold:true});T(1452.7,1311,'+',{bold:true});T(1272.4,1350,'–',{bold:true});T(1452.7,1350,'+',{bold:true});
wells({left:1198,top:1376,w:330,h:497,colX:wellColsH,rowY:wellRows,sets:[
  {data:wellH7c,b:0.85},{data:wellH7d,b:0.4},{data:wellH20c,b:0.8},{data:wellH20d,b:0.4},{data:wellH32c,b:0.8,dy:990},{data:wellH32d,b:0.25,dy:990}]});
frame([1150.2,1197.6,1363.2,1528],[1375.8,1540.6,1706,1872.6]);
T(1172,1458,'CCO7',{rot:Math.PI/2});T(1172,1623,'CCO20',{rot:Math.PI/2});T(1172,1789,'CCO32',{rot:Math.PI/2});
[1532,1698.6,1864.5].forEach(y=>{L(1328,y,1358,y,2.4,'#222');L(1494,y,1523.5,y,2.4,'#222');});
vbars({yx:1681,right:2039.6,top:1347,base:1801.3,scale:90.15,first:1738.5,pitch:119.5,barW:36.7,dist:40,margin:17,groups:groupsH,labels:labelsH,labelPos:labelPosH,
  yTicks:[0,1,2,3,4,5],yLabels:[0,1,2,3,4,5],
  sets:[{name:'CPT + Dox',color:'#8a8a8a',values:cptDoxH,err:errCptDoxH,dots:dotsCptDoxH},{name:'CPT',color:'#fff',values:cptH,err:errCptH,dots:dotsCptH}]});
T(1749,1469,'p = 0.0007');L(1719,1487.4,1758.5,1487.4,2.4,'#444');
T(1859.3,1525.3,'p = 0.035');L(1838.6,1547.5,1878,1547.5,2.4,'#444');
T(1976,1305.7,'p = 0.0032');L(1958,1326,1997.5,1326,2.4,'#222');
T(1621,1586.6,titleArea,{rot:Math.PI/2});
addLegend(1709,1857,19,19,58,['CPT','CPT + Dox']);

const chart=echarts.init(document.getElementById('c'),null,{renderer:'canvas',width:2087,height:1881});
chart.setOption(opt);
</script></body></html>
